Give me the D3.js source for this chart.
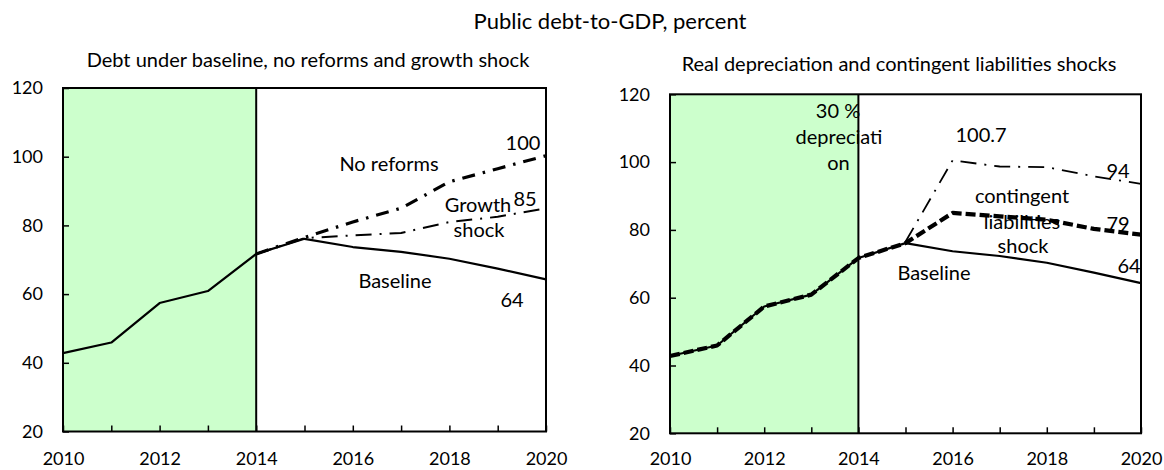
<!DOCTYPE html>
<html>
<head>
<meta charset="utf-8">
<script src="https://cdn.jsdelivr.net/npm/d3@7"></script>
<style>
  body { margin: 0; background: #fff; }
  svg { display: block; font-family: Lato, "Open Sans", sans-serif; }
</style>
</head>
<body>
<svg id="chart"></svg>
<script>
// values
const years = [2010, 2011, 2012, 2013, 2014, 2015, 2016, 2017, 2018, 2019, 2020];
const baselineDebt   = [42.8, 45.9, 57.4, 60.9, 71.7, 76.1, 73.7, 72.3, 70.3, 67.4, 64.3];
const noReformsDebt  = [null, null, null, null, 71.7, 76.5, 81.0, 85.0, 92.7, 96.5, 100.3];
const growthDebt     = [null, null, null, null, 71.7, 76.3, 77.1, 77.8, 81.0, 82.5, 85.0];
const deprecDebt     = [null, null, null, null, null, 76.5, 100.5, 98.7, 98.5, 95.8, 93.6];
const contingentDebt = [42.8, 45.9, 57.4, 60.9, 71.7, 76.1, 85.0, 84.0, 83.0, 80.3, 78.6];
const yTicks = [20, 40, 60, 80, 100, 120];
const historyEnd = 2014;

const W = 1164, H = 470;
const svg = d3.select('#chart').attr('width', W).attr('height', H);

svg.append('text')
  .attr('x', 610).attr('y', 29)
  .attr('text-anchor', 'middle')
  .attr('font-size', 22)
  .text('Public debt-to-GDP, percent');

const panels = [
  {
    title: 'Debt under baseline, no reforms and growth shock', titleX: 308, titleY: 67,
    left: 63, right: 546, top: 88, bottom: 431.5, labelPad: 21,
    series: [
      { data: baselineDebt, width: 2.2, dash: null },
      { data: noReformsDebt, width: 3.2, dash: '13,8,2.5,8' },
      { data: growthDebt, width: 2, dash: '16,8,2,8' }
    ],
    notes: [
      ['100', 523, 150], ['No reforms', 389, 171], ['Growth', 478, 212], ['85', 525, 206],
      ['shock', 479, 237], ['Baseline', 395, 288], ['64', 512, 307]
    ]
  },
  {
    title: 'Real depreciation and contingent liabilities shocks', titleX: 899, titleY: 70.5,
    left: 670, right: 1141, top: 94.3, bottom: 433.3, labelPad: 19,
    series: [
      { data: baselineDebt, width: 2.2, dash: null },
      { data: deprecDebt, width: 1.8, dash: '16,8,2,8' },
      { data: contingentDebt, width: 4.2, dash: '10,4' }
    ],
    notes: [
      ['30 %', 838, 118], ['depreciati', 839, 143.5], ['on', 838.5, 169.5], ['100.7', 981, 142],
      ['94', 1118, 178], ['contingent', 1022, 203], ['liabilities', 1022, 229], ['shock', 1023, 253],
      ['79', 1118, 231], ['64', 1129, 273], ['Baseline', 934, 280]
    ]
  }
];

panels.forEach(p => {
  const x = d3.scaleLinear().domain([2010, 2020]).range([p.left, p.right]);
  const y = d3.scaleLinear().domain([20, 120]).range([p.bottom, p.top]);
  const g = svg.append('g');

  g.append('text')
    .attr('x', p.titleX).attr('y', p.titleY)
    .attr('text-anchor', 'middle')
    .attr('font-size', 20)
    .text(p.title);

  // history shading
  g.append('rect')
    .attr('x', x(2010)).attr('y', y(120))
    .attr('width', x(historyEnd) - x(2010))
    .attr('height', y(20) - y(120))
    .attr('fill', '#ccffcc');

  g.append('line')
    .attr('x1', x(historyEnd)).attr('x2', x(historyEnd))
    .attr('y1', y(120)).attr('y2', y(20))
    .attr('stroke', '#000').attr('stroke-width', 2);

  const xAxis = d3.axisBottom(x)
    .tickValues(years)
    .tickFormat(d => d % 2 === 0 ? d : '')
    .tickSizeInner(-6).tickSizeOuter(0).tickPadding(p.labelPad);
  const gx = g.append('g')
    .attr('transform', `translate(0,${p.bottom})`)
    .call(xAxis);
  gx.selectAll('text').attr('font-size', 18).attr('font-family', 'Lato, sans-serif').attr('fill', '#000');
  gx.selectAll('line').attr('stroke', '#000').attr('stroke-width', 1.5);
  gx.select('.domain').remove();

  const yAxis = d3.axisLeft(y)
    .tickValues(yTicks)
    .tickSizeInner(-6).tickSizeOuter(0).tickPadding(20);
  const gy = g.append('g')
    .attr('transform', `translate(${p.left},0)`)
    .call(yAxis);
  gy.selectAll('text').attr('font-size', 18).attr('font-family', 'Lato, sans-serif').attr('fill', '#000');
  gy.selectAll('line').attr('stroke', '#000').attr('stroke-width', 1.5);
  gy.select('.domain').remove();

  g.append('rect')
    .attr('x', x(2010)).attr('y', y(120))
    .attr('width', x(2020) - x(2010))
    .attr('height', y(20) - y(120))
    .attr('fill', 'none').attr('stroke', '#000').attr('stroke-width', 2);

  const line = d3.line()
    .defined(d => d[1] != null)
    .x(d => x(d[0])).y(d => y(d[1]));

  p.series.forEach(s => {
    g.append('path')
      .datum(years.map((yr, i) => [yr, s.data[i]]))
      .attr('d', line)
      .attr('fill', 'none')
      .attr('stroke', '#000')
      .attr('stroke-width', s.width)
      .attr('stroke-dasharray', s.dash)
      .attr('stroke-linejoin', 'round');
  });

  g.selectAll('.note')
    .data(p.notes)
    .join('text')
      .attr('class', 'note')
      .attr('x', d => d[1]).attr('y', d => d[2])
      .attr('text-anchor', 'middle')
      .attr('font-size', 20)
      .text(d => d[0]);
});
</script>
</body>
</html>
